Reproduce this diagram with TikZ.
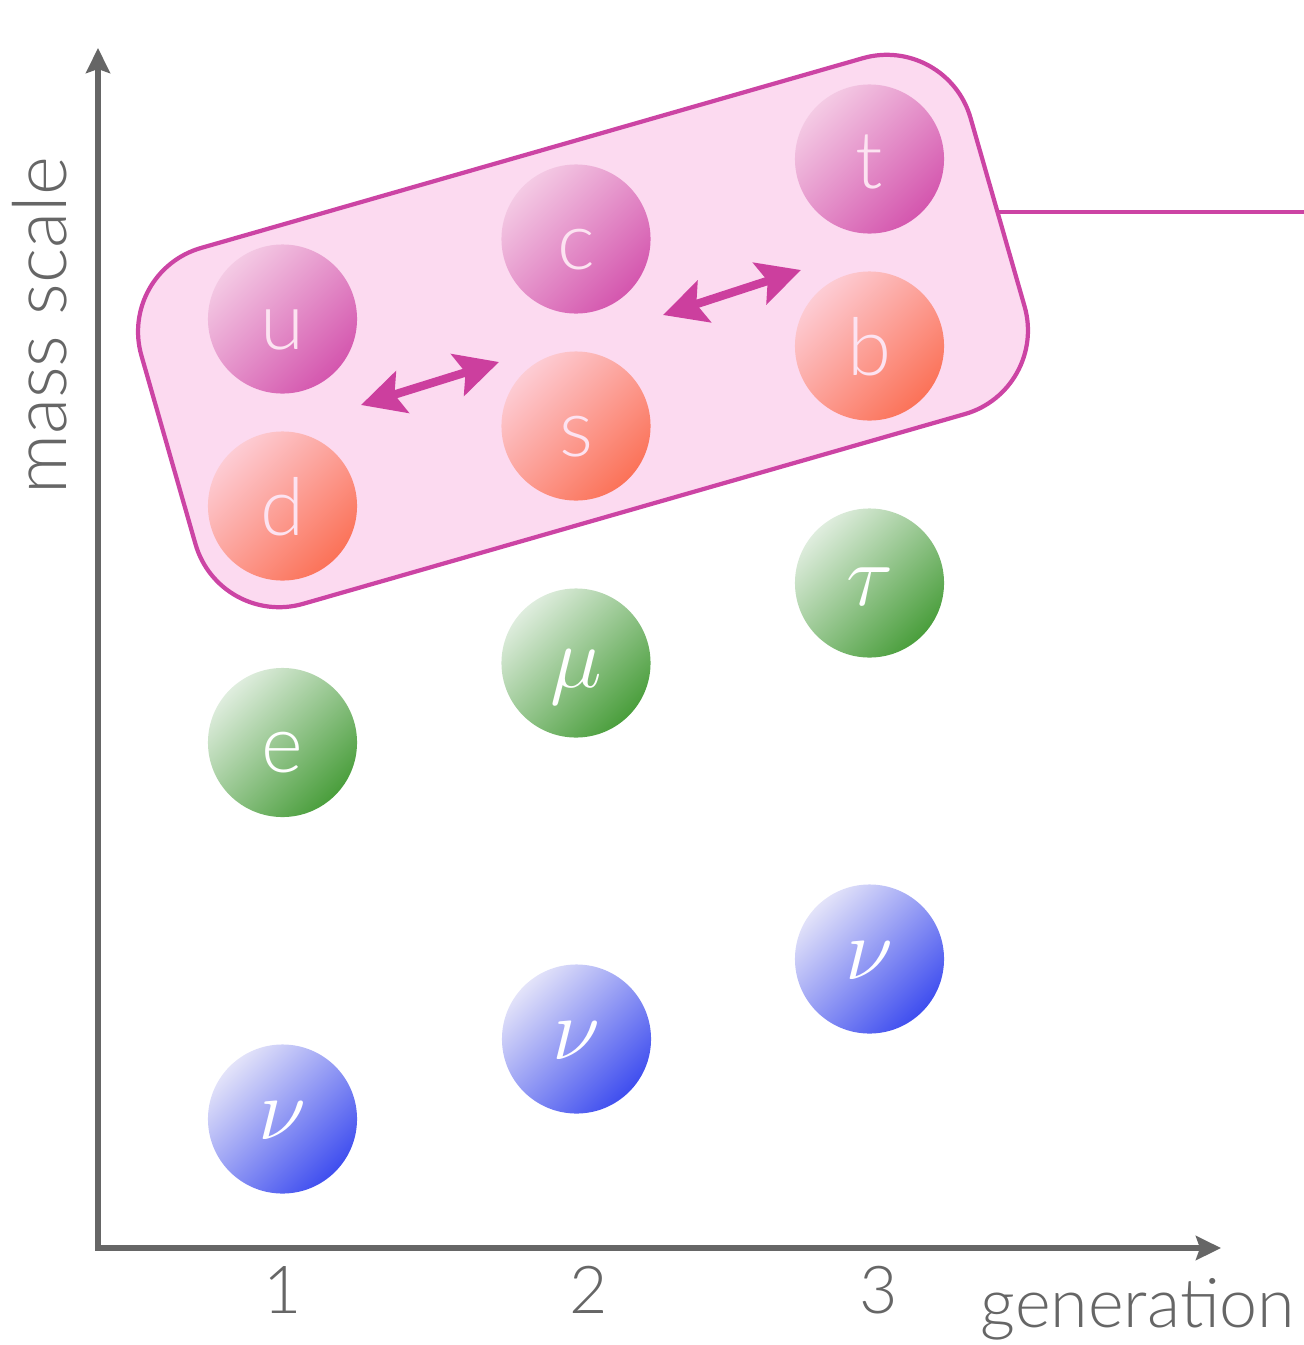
\documentclass[tikz,border=0pt]{standalone}
\usepackage{fontspec}
\IfFontExistsTF{Lato Light}{\setmainfont{Lato Light}}{\setmainfont{TeX Gyre Heros}}
\usetikzlibrary{arrows.meta}
\definecolor{axisc}{HTML}{666666}
\definecolor{boxc}{HTML}{CC44A4}
\definecolor{boxf}{HTML}{FCDAF0}
\definecolor{arrc}{HTML}{CC3F9E}
\definecolor{upL}{HTML}{F4CAE4}
\definecolor{upD}{HTML}{D456AE}
\definecolor{dnL}{HTML}{FDCCD4}
\definecolor{dnD}{HTML}{FB7258}
\definecolor{lpL}{HTML}{DFEDDE}
\definecolor{lpD}{HTML}{4A9E3C}
\definecolor{nuL}{HTML}{E3E3F9}
\definecolor{nuD}{HTML}{3F4EEF}
\definecolor{qtxt}{HTML}{FCE3F1}
\tikzset{
  axisline/.style={draw=axisc, line width=1.5pt, line join=miter,
    {Stealth[length=0.25cm, width=0.24cm, inset=0.04cm]}-{Stealth[length=0.25cm, width=0.24cm, inset=0.04cm]}},
  axislabel/.style={text=axisc, font=\fontsize{18.8pt}{22pt}\selectfont, inner sep=0pt, anchor=base},
  ball/.style={circle, minimum size=1.49cm, inner sep=0pt, outer sep=0pt},
  upball/.style={ball, top color=upL, bottom color=upD, shading angle=45},
  dnball/.style={ball, top color=dnL, bottom color=dnD, shading angle=45},
  lpball/.style={ball, top color=lpL, bottom color=lpD, shading angle=45},
  nuball/.style={ball, top color=nuL, bottom color=nuD, shading angle=45},
  qlabel/.style={text=qtxt, font=\fontsize{22.7pt}{26pt}\selectfont, inner sep=0pt, anchor=base},
  llabel/.style={text=white, font=\fontsize{22.7pt}{26pt}\selectfont, inner sep=0pt, anchor=base},
  glabel/.style={text=white, font=\fontsize{26pt}{30pt}\selectfont, inner sep=0pt, anchor=base},
  mixarrow/.style={draw=arrc, line width=2.4pt,
    {Stealth[length=0.43cm, width=0.43cm, inset=0.08cm]}-{Stealth[length=0.43cm, width=0.43cm, inset=0.08cm]}},
  groupbox/.style={draw=boxc, fill=boxf, line width=1.2pt, rounded corners=0.87cm,
    minimum width=8.62cm, minimum height=3.70cm, rotate=16, inner sep=0pt, outer sep=0pt},
  boxline/.style={draw=boxc, line width=1.2pt}
}
\begin{document}
\begin{tikzpicture}[x=0.01cm, y=-0.01cm]
\useasboundingbox (0,0) rectangle (1304,1345);
% axes
\coordinate (origin) at (98,1248);
\coordinate (ytip) at (98,48);
\coordinate (xtip) at (1221,1248);
\draw[axisline] (ytip) -- (origin) -- (xtip);
\node[axislabel] (g1) at (283,1313) {1};
\node[axislabel] (g2) at (589,1313) {2};
\node[axislabel] (g3) at (879,1313) {3};
\node[axislabel, font=\fontsize{19.4pt}{22pt}\selectfont] (gen) at (1138,1327) {generation};
\node[axislabel, rotate=90, font=\fontsize{21.2pt}{24pt}\selectfont] (mass) at (67,326) {mass scale};
% quark group box
\node[groupbox] (box) at (583,331) {};
\coordinate (lineend) at (1304,212);
\draw[boxline] (box.east) -- (box.east -| lineend);
% quarks
\node[upball] (u) at (282.5,319) {};
\node[dnball] (d) at (282.5,506) {};
\node[upball] (c) at (576,239) {};
\node[dnball] (s) at (576,426) {};
\node[upball] (t) at (869.5,159) {};
\node[dnball] (b) at (869.5,346) {};
\node[qlabel] (ut) at ([yshift=-0.30cm]u.center) {u};
\node[qlabel] (dt) at ([yshift=-0.29cm]d.center) {d};
\node[qlabel] (ct) at ([yshift=-0.30cm]c.center) {c};
\node[qlabel] (st) at ([yshift=-0.30cm]s.center) {s};
\node[qlabel] (tt) at ([yshift=-0.29cm]t.center) {t};
\node[qlabel] (bt) at ([yshift=-0.29cm]b.center) {b};
% leptons
\node[lpball] (e) at (282.5,742.5) {};
\node[lpball] (mu) at (576,663) {};
\node[lpball] (tau) at (869.5,583) {};
\node[llabel] (et) at ([yshift=-0.30cm]e.center) {e};
\node[glabel] (mut) at ([yshift=-0.24cm]mu.center) {$\mu$};
\node[glabel] (taut) at ([yshift=-0.22cm]tau.center) {$\tau$};
% neutrinos
\node[nuball] (nuA) at (282.5,1119) {};
\node[nuball] (nuB) at (576.5,1039) {};
\node[nuball] (nuC) at (869.5,959) {};
\node[glabel] (nuAt) at ([yshift=-0.20cm]nuA.center) {$\nu$};
\node[glabel] (nuBt) at ([yshift=-0.20cm]nuB.center) {$\nu$};
\node[glabel] (nuCt) at ([yshift=-0.20cm]nuC.center) {$\nu$};
% mixing arrows
\coordinate (a1l) at (361,405);
\coordinate (a1r) at (499,362);
\coordinate (a2l) at (663,315);
\coordinate (a2r) at (801,270);
\draw[mixarrow] (a1l) -- (a1r);
\draw[mixarrow] (a2l) -- (a2r);
\end{tikzpicture}
\end{document}
